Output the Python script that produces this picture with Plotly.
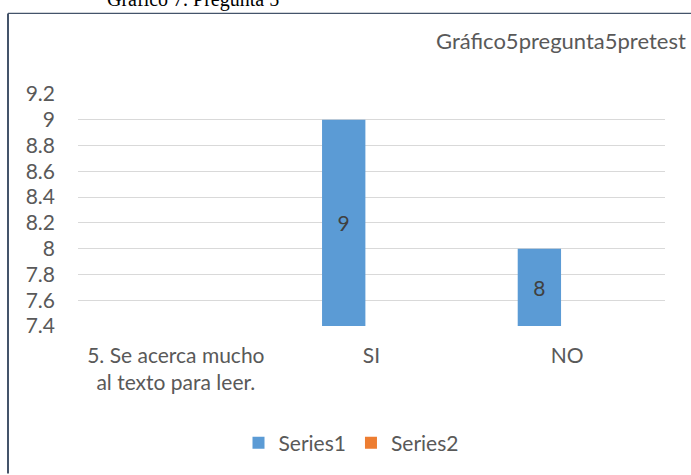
import plotly.graph_objects as go

categories = ["5. Se acerca mucho<br>al texto para leer.", "SI", "NO"]
series1 = [None, 9, 8]
series2 = [None, None, None]
y_ticks = [7.4, 7.6, 7.8, 8, 8.2, 8.4, 8.6, 8.8, 9, 9.2]
chart_title = "Gráfico5pregunta5pretest"
caption = "Gráfico 7. Pregunta 5"

FLOOR = y_ticks[0]
FONT = "Lato"
GREY = "#595959"

# plot area in pixels: x 78..665, y 94..330
L, R, T, B = 78, 26, 94, 145
W, H = 691, 475
pw, ph = W - L - R, H - T - B


def px_x(p):
    return (p - L) / pw


def px_y(p):
    return (H - B - p) / ph


def lift(vals):
    # bars start at the visible floor of the axis so the labels sit mid-bar
    return [None if v is None else v - FLOOR for v in vals]


fig = go.Figure()
fig.add_trace(go.Bar(
    name="Series1", x=categories, y=lift(series1), base=FLOOR,
    marker_color="#5b9bd5", marker_line_width=0,
    text=[None if v is None else str(v) for v in series1],
    textposition="inside", insidetextanchor="middle",
    textfont=dict(family=FONT, size=21, color="#404040"),
    customdata=series1, hovertemplate="%{x}: %{customdata}<extra>Series1</extra>",
))
fig.add_trace(go.Bar(
    name="Series2", x=categories, y=lift(series2), base=FLOOR,
    marker_color="#ed7d31", marker_line_width=0,
))

fig.update_layout(
    width=W, height=H,
    margin=dict(l=L, r=R, t=T, b=B, pad=0),
    paper_bgcolor="white", plot_bgcolor="white",
    barmode="group", bargap=0.432, bargroupgap=0.22,
    font=dict(family=FONT, size=21, color=GREY),
    showlegend=True,
    legend=dict(
        orientation="h", x=px_x(351), xanchor="center",
        y=px_y(449), yanchor="middle",
        font=dict(family=FONT, size=21, color=GREY),
        itemwidth=30, traceorder="normal",
    ),
    annotations=[
        dict(text=chart_title, xref="paper", yref="paper",
             x=px_x(688), y=px_y(40), xanchor="right", yanchor="middle",
             showarrow=False, font=dict(family=FONT, size=22, color=GREY)),
        dict(text=caption, xref="paper", yref="paper",
             x=px_x(105), y=px_y(12), xanchor="left", yanchor="bottom",
             showarrow=False,
             font=dict(family="Liberation Serif", size=20, color="#000000")),
    ],
    shapes=[
        dict(type="line", xref="paper", yref="paper",
             x0=px_x(8), x1=px_x(W + 5), y0=px_y(12), y1=px_y(12),
             line=dict(color="#44546a", width=1.3)),
        dict(type="line", xref="paper", yref="paper",
             x0=px_x(8), x1=px_x(8), y0=px_y(12), y1=px_y(H + 5),
             line=dict(color="#44546a", width=2)),
    ],
)

fig.update_yaxes(
    range=[FLOOR, y_ticks[-1]], tickvals=y_ticks,
    ticktext=[f"{v:g}" for v in y_ticks],
    showgrid=True, gridcolor="#d9d9d9", gridwidth=1,
    zeroline=False, showline=False, ticks="",
    ticklabelstandoff=22,
    tickfont=dict(family=FONT, size=21, color=GREY),
)
fig.update_xaxes(
    showgrid=False, showline=False, ticks="",
    ticklabelstandoff=15,
    tickfont=dict(family=FONT, size=21, color=GREY),
)

# drop the default 8px page margin so the figure fills the window exactly
fig.write_html("out.html", config={"displayModeBar": False},
               post_script="document.body.style.margin = '0';")
